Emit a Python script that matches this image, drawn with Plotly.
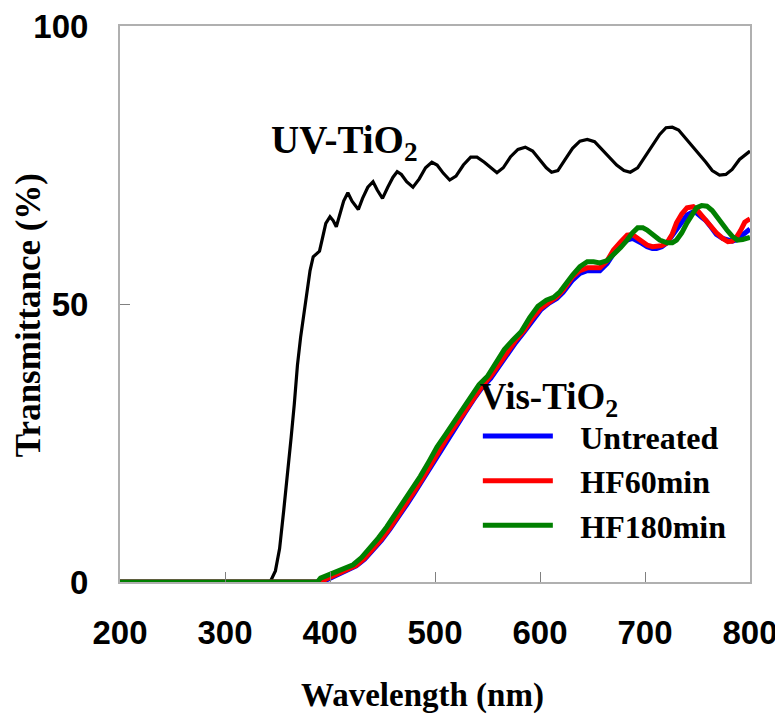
import plotly.graph_objects as go

# UV-TiO2 (black)
uv_x = [200, 340, 343, 348, 352, 356, 360, 363, 366, 369, 372, 375, 378, 381, 384, 387, 390,
        393, 396, 400, 403, 406, 410, 413, 417, 421, 427, 431, 436, 441, 445, 450, 455, 460,
        464, 468, 473, 479, 485, 491, 497, 502, 508, 514, 520, 527, 534, 540, 547, 553, 559,
        565, 572, 579, 586, 593, 600, 606, 611, 617, 624, 631, 638, 645, 652, 659, 666, 673,
        680, 686, 693, 700, 707, 714, 720, 726, 732, 738, 745, 752, 758, 764, 771, 777, 783,
        790, 795, 800]
uv_y = [0, 0, 0, 2, 6, 13, 20, 26, 32, 39, 44, 48, 52, 56, 58.5, 59, 59.5,
        62, 64.5, 65.7, 65, 63.9, 66.5, 68.5, 70, 68.5, 67, 69, 71, 72, 70.5, 69, 71, 72.8,
        73.8, 73.3, 72, 71, 72.5, 74.5, 75.5, 75, 73.5, 72.3, 73, 75, 76.4, 76.4, 75.5, 74.5, 73.6,
        74.5, 76.5, 77.8, 78.2, 77.5, 76, 74.5, 73.7, 74, 76, 78, 79.3, 79.6, 79.2, 77.8, 76.3, 75,
        74, 73.7, 74.5, 76.5, 78.5, 80.5, 81.7, 81.8, 81.3, 80, 78.5, 77, 75.5, 74, 73.2, 73.3, 74.2,
        76, 76.8, 77.5]

# Vis-TiO2 Untreated (blue)
unt_x = [200, 393, 397, 405, 415, 425, 433, 441, 449, 457, 465, 473, 481, 489, 497, 505, 513,
         521, 529, 537, 545, 553, 561, 569, 577, 585, 593, 601, 609, 616, 622, 631, 638, 645,
         651, 657, 664, 670, 677, 683, 688, 692, 697, 702, 707, 711, 716, 721, 726, 730, 735,
         740, 745, 749, 754, 758, 763, 768, 774, 779, 783, 787, 791, 795, 798, 800]
unt_y = [0, 0, 0.4, 1.1, 2.0, 2.9, 4.1, 5.7, 7.5, 9.5, 11.6, 13.9, 16.2, 18.6, 21.2, 23.8, 26.1,
         28.3, 30.6, 32.9, 35.0, 36.6, 38.9, 41.2, 43.1, 45.0, 47.1, 49.0, 50.2, 51.0, 52.1, 54.3, 55.5, 56.0,
         56.0, 56.0, 57.3, 59.0, 60.5, 61.5, 61.8, 61.5, 60.9, 60.3, 60.0, 60.0, 60.3, 61.0, 62.3, 63.5, 65.0,
         66.0, 66.5, 66.4, 65.6, 65.0, 63.8, 62.5, 61.8, 61.5, 61.3, 61.5, 62.2, 62.9, 63.3, 63.5]

# Vis-TiO2 HF60min (red)
hf60_x = [200, 392, 396, 405, 415, 425, 433, 441, 449, 457, 465, 473, 481, 489, 497, 505, 513,
          521, 529, 537, 545, 553, 561, 569, 577, 585, 593, 601, 609, 616, 622, 631, 638, 645,
          651, 657, 664, 670, 677, 683, 688, 692, 697, 702, 707, 711, 716, 721, 726, 730, 735,
          740, 746, 750, 755, 761, 768, 774, 779, 783, 787, 791, 795, 798, 800]
hf60_y = [0, 0, 0.5, 1.3, 2.1, 3.0, 4.3, 5.9, 7.7, 9.7, 11.9, 14.2, 16.5, 18.9, 21.5, 24.1, 26.4,
          28.6, 30.9, 33.2, 35.3, 37.0, 39.3, 41.6, 43.5, 45.3, 47.5, 49.3, 50.5, 51.3, 52.5, 54.9, 56.0, 56.5,
          56.5, 56.5, 57.8, 59.7, 61.2, 62.4, 62.5, 61.9, 61.2, 60.6, 60.3, 60.3, 60.5, 61.0, 62.6, 64.6, 66.2,
          67.3, 67.5, 66.8, 65.7, 64.2, 62.8, 61.8, 61.2, 61.3, 62.0, 63.2, 64.7, 65.1, 65.3]

# Vis-TiO2 HF180min (green)
hf180_x = [200, 388, 391, 400, 410, 422, 430, 438, 446, 454, 462, 470, 478, 486, 494, 502, 510,
           518, 526, 534, 542, 550, 558, 566, 574, 582, 590, 598, 606, 613, 619, 625, 631, 638,
           645, 651, 657, 664, 670, 677, 683, 688, 693, 698, 702, 708, 714, 721, 726, 730, 735,
           740, 745, 749, 754, 759, 764, 768, 773, 778, 783, 788, 793, 798, 800]
hf180_y = [0, 0, 0.7, 1.4, 2.2, 3.1, 4.4, 6.1, 7.9, 9.9, 12.1, 14.3, 16.7, 19.0, 21.6, 24.3, 26.5,
           28.8, 31.0, 33.5, 35.5, 37.0, 39.5, 41.8, 43.5, 45.0, 47.5, 49.6, 50.7, 51.2, 52.2, 53.8, 55.2, 56.7,
           57.6, 57.6, 57.4, 57.8, 58.8, 60.2, 61.5, 62.8, 63.7, 63.7, 63.3, 62.3, 61.5, 61.0, 61.0, 61.5, 62.8,
           64.6, 66.3, 67.3, 67.7, 67.6, 66.8, 65.7, 64.4, 63.3, 62.2, 61.5, 61.6, 61.9, 62.0]

x_ticks = [200, 300, 400, 500, 600, 700, 800]
y_ticks = [0, 50, 100]

SERIF = "Liberation Serif, Times New Roman, serif"
SANS = "Liberation Sans, Arial, sans-serif"
PAD = "\u00a0\u00a0\u2009"

fig = go.Figure()
fig.add_trace(go.Scatter(x=uv_x, y=uv_y, mode="lines", name="UV-TiO2",
                         line=dict(color="#000000", width=3.2), showlegend=False))
fig.add_trace(go.Scatter(x=unt_x, y=unt_y, mode="lines", name=PAD + "<b>Untreated</b>",
                         line=dict(color="#0000FF", width=5), legendgroup="a"))
fig.add_trace(go.Scatter(x=hf60_x, y=hf60_y, mode="lines", name=PAD + "<b>HF60min</b>",
                         line=dict(color="#FF0000", width=5), legendgroup="b"))
fig.add_trace(go.Scatter(x=hf180_x, y=hf180_y, mode="lines", name=PAD + "<b>HF180min</b>",
                         line=dict(color="#008000", width=5), legendgroup="c"))

axis_common = dict(showgrid=False, zeroline=False, showline=True, linecolor="#B0B0B0",
                   linewidth=2, mirror=True, ticks="inside", ticklen=10, tickwidth=1,
                   tickcolor="#808080", automargin=False, ticklabeloverflow="allow",
                   tickfont=dict(family=SANS, size=33, color="#000000", weight="bold"))

fig.update_xaxes(range=[200, 800], tickvals=x_ticks, ticktext=[str(v) for v in x_ticks],
                 ticklabelstandoff=20, **axis_common)
fig.update_yaxes(range=[0, 100], tickvals=y_ticks, ticktext=[str(v) for v in y_ticks],
                 ticklabelstandoff=23, **axis_common)

fig.add_annotation(x=342, y=79, xref="x", yref="y", text="<b>UV-TiO<sub>2</sub></b>",
                   showarrow=False, xanchor="left", yanchor="middle",
                   font=dict(family=SERIF, size=39, color="#000000", weight="bold"))
fig.add_annotation(x=(422 - 120) / 630, y=-0.205, xref="paper", yref="paper",
                   text="<b>Wavelength (nm)</b>",
                   showarrow=False, xanchor="center", yanchor="middle",
                   font=dict(family=SERIF, size=33, color="#000000", weight="bold"))
fig.add_annotation(x=-0.146, y=0.48, xref="paper", yref="paper", text="<b>Transmittance (%)</b>",
                   showarrow=False, textangle=-90, xanchor="center", yanchor="middle",
                   font=dict(family=SERIF, size=35, color="#000000", weight="bold"))

# page body adds an 8px offset, so the figure is 8px smaller and the left/top margins 8px less
fig.update_layout(
    width=775, height=709,
    margin=dict(l=112, r=33, t=18, b=135, autoexpand=False),
    paper_bgcolor="white", plot_bgcolor="white",
    legend=dict(
        x=0.568, y=0.398, xanchor="left", yanchor="top",
        bgcolor="rgba(0,0,0,0)", borderwidth=0,
        traceorder="grouped", tracegroupgap=0, itemwidth=70,
        font=dict(family=SERIF, size=32, color="#000000", weight="bold"),
        title=dict(text="<b>Vis-TiO<sub>2</sub></b>",
                   font=dict(family=SERIF, size=37, color="#000000", weight="bold")),
    ),
)

fig.write_html("out.html")
